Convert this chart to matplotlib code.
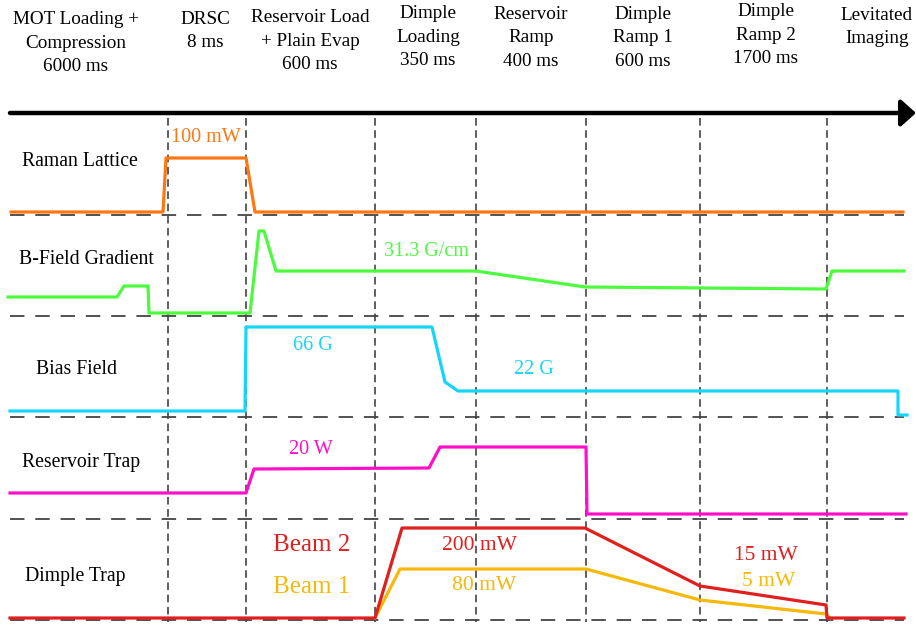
import matplotlib

matplotlib.use("Agg")
import matplotlib.pyplot as plt

# phase boundaries along the time axis (diagram units, not to scale)
PHASE_EDGES = [168, 246, 375, 476, 586, 700, 827]
LANE_EDGES = [215, 316, 417, 519, 620]

PHASES = [
    "MOT Loading +\nCompression\n6000 ms",
    "DRSC\n8 ms",
    "Reservoir Load\n+ Plain Evap\n600 ms",
    "Dimple\nLoading\n350 ms",
    "Reservoir\nRamp\n400 ms",
    "Dimple\nRamp 1\n600 ms",
    "Dimple\nRamp 2\n1700 ms",
    "Levitated\nImaging",
]
PHASE_X = [76, 205, 310, 428, 531, 643, 766, 877]
PHASE_Y = [43, 31, 41, 37, 38, 38, 35, 27]

CHANNELS = ["Raman Lattice", "B-Field Gradient", "Bias Field", "Reservoir Trap", "Dimple Trap"]
CHANNEL_X = [80, 86, 77, 81, 75]
CHANNEL_Y = [161, 259, 369, 462, 577]

# traces: (time, level) in diagram units
raman_t = [11, 163, 166, 246, 255, 903]
raman_v = [212, 212, 158, 158, 212, 212]

grad_t = [8, 117, 124, 148, 149, 250, 259, 264, 276, 476, 585, 826, 832, 904]
grad_v = [297, 297, 286, 286, 313, 313, 231, 231, 271, 271, 287, 289, 271, 271]

bias_t = [10, 245, 246, 432, 445, 458, 898, 898, 907]
bias_v = [411, 411, 327, 327, 382, 391, 391, 415, 415]

res_t = [10, 246, 254, 429, 440, 586, 587, 906]
res_v = [493, 493, 469, 468, 447, 447, 514, 514]

beam2_t = [10, 375, 402, 585, 700, 826, 827, 904]
beam2_v = [618, 618, 528, 528, 586, 605, 618, 618]

beam1_t = [375, 400, 586, 700, 826, 830]
beam1_v = [618, 569, 569, 600, 614, 618]

ORANGE = "#ff7712"
GREEN = "#4cfa3e"
CYAN = "#14d6fa"
MAGENTA = "#ff10c8"
RED = "#e01f1f"
YELLOW = "#f6b80a"

LABELS = [
    ("100 mW", 206, 138, ORANGE, 14.5),
    ("31.3 G/cm", 426, 252, GREEN, 14.5),
    ("66 G", 313, 345, CYAN, 14.5),
    ("22 G", 534, 370, CYAN, 14.5),
    ("20 W", 311, 449, MAGENTA, 14.5),
    ("Beam 2", 312, 545, RED, 18),
    ("Beam 1", 312, 587, YELLOW, 18),
    ("200 mW", 479, 545, RED, 15.5),
    ("80 mW", 484, 585, YELLOW, 15.5),
    ("15 mW", 766, 555, RED, 15.5),
    ("5 mW", 769, 581, YELLOW, 15.5),
]

plt.rcParams["font.family"] = ["Liberation Serif", "DejaVu Serif"]

fig = plt.figure(figsize=(9.16, 6.26), dpi=100)
ax = fig.add_axes([0, 0, 1, 1])
ax.set_xlim(0, 916)
ax.set_ylim(626, 0)
ax.axis("off")

for x in PHASE_EDGES:
    ax.plot([x, x], [118, 622], color="#333333", lw=1.1, dashes=(5, 3))
for y in LANE_EDGES:
    ax.plot([10, 904], [y, y], color="#444444", lw=1.3, dashes=(8, 6))

ax.annotate(
    "",
    xy=(916, 113),
    xytext=(10, 113),
    annotation_clip=False,
    arrowprops=dict(
        arrowstyle="-|>,head_length=0.5,head_width=0.45", lw=3.2, color="black",
        mutation_scale=18, shrinkA=0, shrinkB=0,
    ),
)

for text, x, y in zip(PHASES, PHASE_X, PHASE_Y):
    ax.text(x, y, text, ha="center", va="center", fontsize=13.8, linespacing=1.5)
for text, x, y in zip(CHANNELS, CHANNEL_X, CHANNEL_Y):
    ax.text(x, y, text, ha="center", va="center", fontsize=14.2)

lw = 2.3
ax.plot(raman_t, raman_v, color=ORANGE, lw=lw)
ax.plot(grad_t, grad_v, color=GREEN, lw=lw)
ax.plot(bias_t, bias_v, color=CYAN, lw=lw)
ax.plot(res_t, res_v, color=MAGENTA, lw=lw)
ax.plot(beam1_t, beam1_v, color=YELLOW, lw=lw)
ax.plot(beam2_t, beam2_v, color=RED, lw=lw)

for text, x, y, c, fs in LABELS:
    ax.text(x, y, text, ha="center", va="center", color=c, fontsize=fs)

fig.savefig("out.png", dpi=100)
